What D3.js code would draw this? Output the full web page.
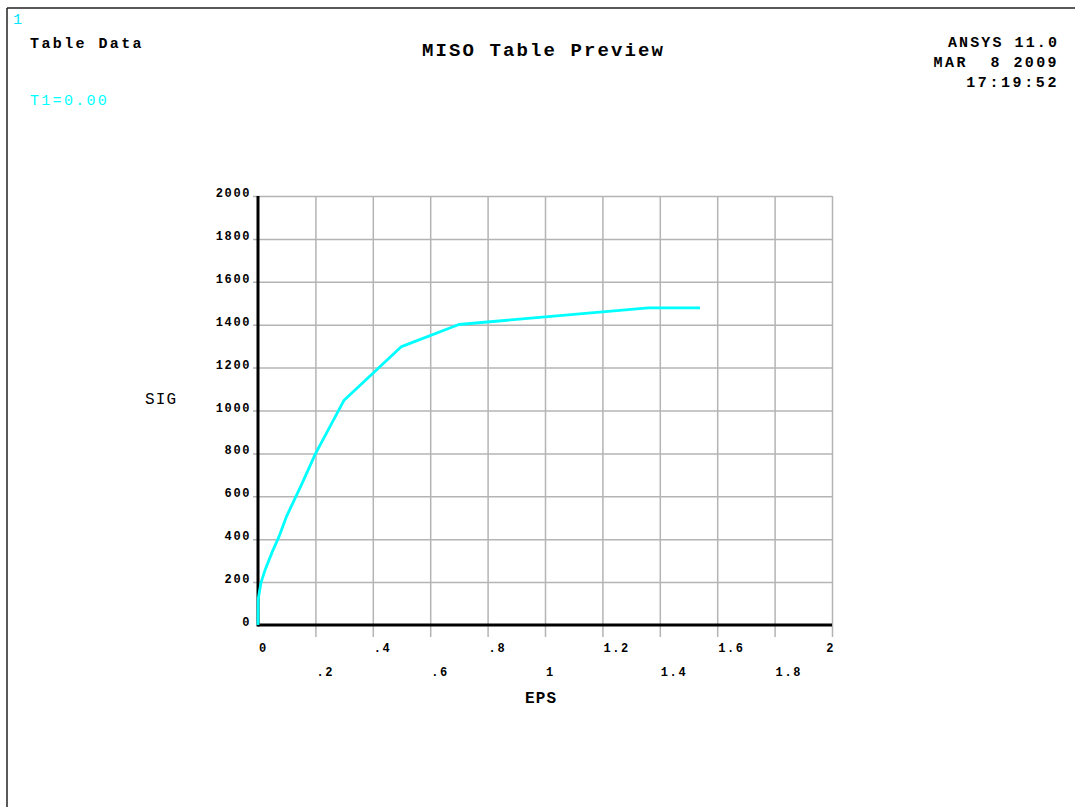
<!DOCTYPE html>
<html>
<head>
<meta charset="utf-8">
<script src="https://cdn.jsdelivr.net/npm/d3@7"></script>
<style>
  html, body { margin: 0; padding: 0; background: #fff; }
  svg { display: block; }
  text { font-family: "Liberation Mono", "DejaVu Sans Mono", monospace; white-space: pre; }
</style>
</head>
<body>
<svg id="chart" width="1075" height="807"></svg>
<script>
// ---- data ----
const epsValues = [0, 0.0006, 0.01, 0.025, 0.05, 0.075, 0.1, 0.15, 0.2, 0.3, 0.5, 0.7, 1.36, 1.54];
const sigValues = [0, 120, 195, 258, 342, 418, 508, 650, 798, 1048, 1298, 1401, 1478, 1478];
const xTickValues = [0, 0.2, 0.4, 0.6, 0.8, 1.0, 1.2, 1.4, 1.6, 1.8, 2.0];
const xTickLabels = ["0", ".2", ".4", ".6", ".8", "1", "1.2", "1.4", "1.6", "1.8", "2"];
const yTickValues = [0, 200, 400, 600, 800, 1000, 1200, 1400, 1600, 1800, 2000];
const yTickLabels = ["0", "200", "400", "600", "800", "1000", "1200", "1400", "1600", "1800", "2000"];
const headerLines = ["ANSYS 11.0", "MAR  8 2009", "17:19:52"];

const svg = d3.select("#chart");
const W = 1075, H = 807;

const x = d3.scaleLinear().domain([0, 2]).range([258, 832]);
const y = d3.scaleLinear().domain([0, 2000]).range([625, 196]);

// frame border (top + left)
svg.append("line").attr("x1", 7).attr("y1", 8).attr("x2", W).attr("y2", 8)
  .attr("stroke", "#222").attr("stroke-width", 1.5);
svg.append("line").attr("x1", 7).attr("y1", 8).attr("x2", 7).attr("y2", H)
  .attr("stroke", "#222").attr("stroke-width", 1.5);

// grid via axes
const xGrid = d3.axisBottom(x).tickValues(xTickValues.slice(1))
  .tickSize(-(625 - 196) - 12).tickFormat("");
svg.append("g").attr("transform", "translate(0,637)").call(xGrid)
  .call(g => g.select(".domain").remove())
  .call(g => g.selectAll("line").attr("stroke", "#b4b4b4").attr("stroke-width", 1.5));

const yGrid = d3.axisLeft(y).tickValues(yTickValues.slice(1))
  .tickSize(-(832 - 258) - 5).tickFormat("");
svg.append("g").attr("transform", "translate(253,0)").call(yGrid)
  .call(g => g.select(".domain").remove())
  .call(g => g.selectAll("line").attr("stroke", "#b4b4b4").attr("stroke-width", 1.5));

// main axes lines
svg.append("line").attr("x1", x(0)).attr("x2", x(0)).attr("y1", y(2000)).attr("y2", y(0) + 1.5)
  .attr("stroke", "#000").attr("stroke-width", 3);
svg.append("line").attr("x1", x(0)).attr("x2", x(2)).attr("y1", y(0)).attr("y2", y(0))
  .attr("stroke", "#000").attr("stroke-width", 3);

// tick labels
const tickFont = { size: 12, ls: 1.6 };
svg.append("g").selectAll("text").data(xTickValues).join("text")
  .attr("x", (d, i) => i === xTickValues.length - 1 ? x(d) + 3 : x(d) + 1)
  .attr("y", (d, i) => i % 2 === 0 ? 652 : 676)
  .attr("text-anchor", (d, i) => i === xTickValues.length - 1 ? "end" : "start")
  .attr("font-size", tickFont.size).attr("font-weight", "bold")
  .attr("letter-spacing", tickFont.ls)
  .text((d, i) => xTickLabels[i]);

svg.append("g").selectAll("text").data(yTickValues).join("text")
  .attr("x", 251).attr("y", d => y(d) + 1)
  .attr("text-anchor", "end")
  .attr("font-size", tickFont.size).attr("font-weight", "bold")
  .attr("letter-spacing", tickFont.ls)
  .text((d, i) => yTickLabels[i]);

// axis titles
svg.append("text").attr("x", 145).attr("y", 404).attr("font-size", 16)
  .attr("letter-spacing", 1.2).text("SIG");
svg.append("text").attr("x", 525).attr("y", 703).attr("font-size", 16)
  .attr("letter-spacing", 1.2).attr("font-weight", "bold").text("EPS");

// headers
svg.append("text").attr("x", 13).attr("y", 24).attr("font-size", 15)
  .attr("fill", "#00e5ff").text("1");
svg.append("text").attr("x", 30).attr("y", 48).attr("font-size", 15)
  .attr("font-weight", "bold").attr("letter-spacing", 2.4).text("Table Data");
svg.append("text").attr("x", 30).attr("y", 105).attr("font-size", 15)
  .attr("fill", "#00ffff").attr("letter-spacing", 2.3).text("T1=0.00");
svg.append("text").attr("x", 422).attr("y", 56).attr("font-size", 19)
  .attr("letter-spacing", 2.1).attr("font-weight", "bold").text("MISO Table Preview");
svg.append("g").selectAll("text").data(headerLines).join("text")
  .attr("x", 1059).attr("y", (d, i) => 47 + i * 20)
  .attr("text-anchor", "end").attr("font-size", 15).attr("font-weight", "bold")
  .attr("letter-spacing", (d, i) => i === 2 ? 2.6 : (i === 1 ? 2.4 : 2.1))
  .text(d => d);

// curve
const pts = epsValues.map((e, i) => [e, sigValues[i]]);
const line = d3.line().x(d => x(d[0])).y(d => y(d[1]));
svg.append("path").datum(pts).attr("d", line)
  .attr("fill", "none").attr("stroke", "#00ffff").attr("stroke-width", 2.8)
  .attr("stroke-linejoin", "round");
</script>
</body>
</html>
